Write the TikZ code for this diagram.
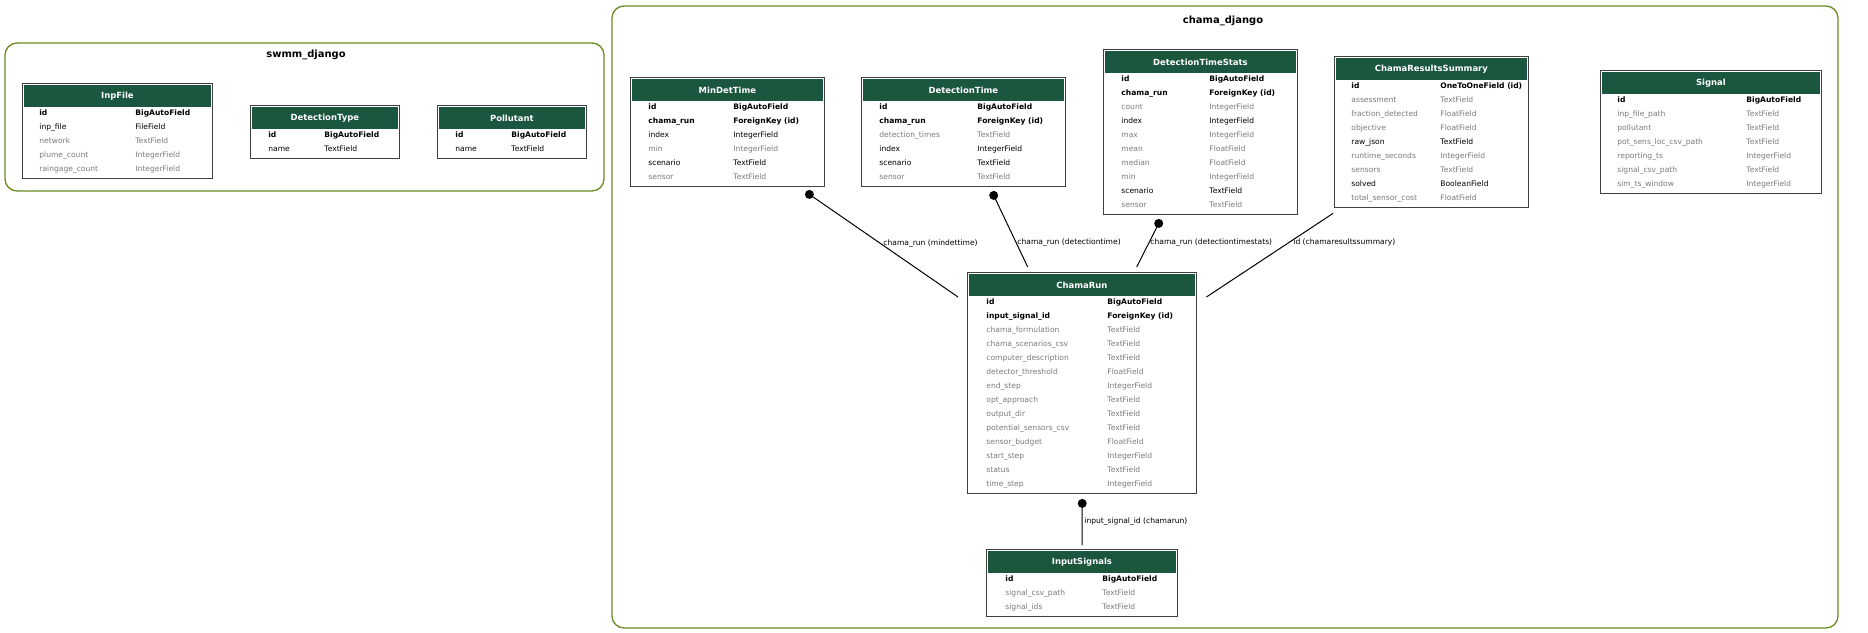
\documentclass[tikz,border=0pt]{standalone}
\usepackage{fontspec}
\setmainfont{DejaVu Sans}
\definecolor{hdrgreen}{HTML}{1B563F}
\definecolor{clustergreen}{HTML}{698B22}
\definecolor{blankgray}{HTML}{7B7B7B}

\begin{document}
\begin{tikzpicture}[x=1bp,y=-1bp,line width=0.8bp,
  cluster/.style={draw=clustergreen,line width=1.3bp,rounded corners=12bp},
  ctitle/.style={font=\fontsize{10}{12}\selectfont\bfseries},
  tbl/.style={draw=black!75,line width=1.4bp,fill=white,anchor=north west,inner sep=0pt},
  hdr/.style={fill=hdrgreen,text=white,anchor=north west,inner sep=0pt,minimum height=22bp,
    font=\fontsize{8.5}{10}\selectfont\bfseries},
  fld/.style={anchor=mid west,inner sep=0pt,font=\fontsize{7.6}{9}\selectfont},
  pk/.style={font=\fontsize{7.6}{9}\selectfont\bfseries,text=black},
  req/.style={text=black},
  opt/.style={text=blankgray},
  rel/.style={line width=1bp},
  dot/.style={circle,fill=black,inner sep=0pt,minimum size=9bp},
  lbl/.style={anchor=mid west,inner sep=0pt,font=\fontsize{7.6}{9}\selectfont}]
\useasboundingbox (0,0) rectangle (1868,633);
% ---- swmm_django ----
\draw[cluster] (5,43) rectangle (604,191);
\node[ctitle] (swmm-title) at (306,55) {swmm\_django};
\node[tbl,minimum width=190bp,minimum height=95bp] (inpfile) at (22,83) {};
\node[hdr,minimum width=187bp] (inpfile-head) at (23.5,84.5) {InpFile};
\foreach \f/\t/\s [count=\i] in {id/BigAutoField/pk, inp\_file/FileField/req,
    network/TextField/opt, plume\_count/IntegerField/opt, raingage\_count/IntegerField/opt}
  {\node[fld,\s] (inpfile-f\i) at (39,99+14*\i) {\f};
   \node[fld,\s] (inpfile-t\i) at (135,99+14*\i) {\t};}
\node[tbl,minimum width=149bp,minimum height=53bp] (detectiontype) at (250,105) {};
\node[hdr,minimum width=146bp] (detectiontype-head) at (251.5,106.5) {DetectionType};
\foreach \f/\t/\s [count=\i] in {id/BigAutoField/pk, name/TextField/req}
  {\node[fld,\s] (detectiontype-f\i) at (268,121+14*\i) {\f};
   \node[fld,\s] (detectiontype-t\i) at (324,121+14*\i) {\t};}
\node[tbl,minimum width=149bp,minimum height=53bp] (pollutant) at (437,105) {};
\node[hdr,minimum width=146bp] (pollutant-head) at (438.5,106.5) {Pollutant};
\foreach \f/\t/\s [count=\i] in {id/BigAutoField/pk, name/TextField/req}
  {\node[fld,\s] (pollutant-f\i) at (455,121+14*\i) {\f};
   \node[fld,\s] (pollutant-t\i) at (511,121+14*\i) {\t};}
% ---- chama_django ----
\draw[cluster] (612,6) rectangle (1838,628);
\node[ctitle] (chama-title) at (1223,21) {chama\_django};
\node[tbl,minimum width=194bp,minimum height=109bp] (mindettime) at (630,77) {};
\node[hdr,minimum width=191bp] (mindettime-head) at (631.5,78.5) {MinDetTime};
\foreach \f/\t/\s [count=\i] in {id/BigAutoField/pk, chama\_run/ForeignKey (id)/pk,
    index/IntegerField/req, min/IntegerField/opt, scenario/TextField/req, sensor/TextField/opt}
  {\node[fld,\s] (mindettime-f\i) at (648,93+14*\i) {\f};
   \node[fld,\s] (mindettime-t\i) at (733,93+14*\i) {\t};}
\node[tbl,minimum width=204bp,minimum height=109bp] (detectiontime) at (861,77) {};
\node[hdr,minimum width=201bp] (detectiontime-head) at (862.5,78.5) {DetectionTime};
\foreach \f/\t/\s [count=\i] in {id/BigAutoField/pk, chama\_run/ForeignKey (id)/pk,
    detection\_times/TextField/opt, index/IntegerField/req, scenario/TextField/req,
    sensor/TextField/opt}
  {\node[fld,\s] (detectiontime-f\i) at (879,93+14*\i) {\f};
   \node[fld,\s] (detectiontime-t\i) at (977,93+14*\i) {\t};}
\node[tbl,minimum width=194bp,minimum height=165bp] (dtstats) at (1103,49) {};
\node[hdr,minimum width=191bp] (dtstats-head) at (1104.5,50.5) {DetectionTimeStats};
\foreach \f/\t/\s [count=\i] in {id/BigAutoField/pk, chama\_run/ForeignKey (id)/pk,
    count/IntegerField/opt, index/IntegerField/req, max/IntegerField/opt, mean/FloatField/opt,
    median/FloatField/opt, min/IntegerField/opt, scenario/TextField/req, sensor/TextField/opt}
  {\node[fld,\s] (dtstats-f\i) at (1121,65+14*\i) {\f};
   \node[fld,\s] (dtstats-t\i) at (1209,65+14*\i) {\t};}
\node[tbl,minimum width=194bp,minimum height=151bp] (summary) at (1334,56) {};
\node[hdr,minimum width=191bp] (summary-head) at (1335.5,57.5) {ChamaResultsSummary};
\foreach \f/\t/\s [count=\i] in {id/OneToOneField (id)/pk, assessment/TextField/opt,
    fraction\_detected/FloatField/opt, objective/FloatField/opt, raw\_json/TextField/req,
    runtime\_seconds/IntegerField/opt, sensors/TextField/opt, solved/BooleanField/req,
    total\_sensor\_cost/FloatField/opt}
  {\node[fld,\s] (summary-f\i) at (1351,72+14*\i) {\f};
   \node[fld,\s] (summary-t\i) at (1440,72+14*\i) {\t};}
\node[tbl,minimum width=221bp,minimum height=123bp] (signal) at (1600,70) {};
\node[hdr,minimum width=218bp] (signal-head) at (1601.5,71.5) {Signal};
\foreach \f/\t/\s [count=\i] in {id/BigAutoField/pk, inp\_file\_path/TextField/opt,
    pollutant/TextField/opt, pot\_sens\_loc\_csv\_path/TextField/opt,
    reporting\_ts/IntegerField/opt, signal\_csv\_path/TextField/opt,
    sim\_ts\_window/IntegerField/opt}
  {\node[fld,\s] (signal-f\i) at (1617,86+14*\i) {\f};
   \node[fld,\s] (signal-t\i) at (1746,86+14*\i) {\t};}
\node[tbl,minimum width=229bp,minimum height=221bp] (chamarun) at (967,272) {};
\node[hdr,minimum width=226bp] (chamarun-head) at (968.5,273.5) {ChamaRun};
\foreach \f/\t/\s [count=\i] in {id/BigAutoField/pk, input\_signal\_id/ForeignKey (id)/pk,
    chama\_formulation/TextField/opt, chama\_scenarios\_csv/TextField/opt,
    computer\_description/TextField/opt, detector\_threshold/FloatField/opt,
    end\_step/IntegerField/opt, opt\_approach/TextField/opt, output\_dir/TextField/opt,
    potential\_sensors\_csv/TextField/opt, sensor\_budget/FloatField/opt,
    start\_step/IntegerField/opt, status/TextField/opt, time\_step/IntegerField/opt}
  {\node[fld,\s] (chamarun-f\i) at (986,288+14*\i) {\f};
   \node[fld,\s] (chamarun-t\i) at (1107,288+14*\i) {\t};}
\node[tbl,minimum width=191bp,minimum height=67bp] (inputsignals) at (986,549) {};
\node[hdr,minimum width=188bp] (inputsignals-head) at (987.5,550.5) {InputSignals};
\foreach \f/\t/\s [count=\i] in {id/BigAutoField/pk, signal\_csv\_path/TextField/opt,
    signal\_ids/TextField/opt}
  {\node[fld,\s] (inputsignals-f\i) at (1005,565+14*\i) {\f};
   \node[fld,\s] (inputsignals-t\i) at (1102,565+14*\i) {\t};}
% ---- relations ----
\node[dot] (mindettime-dot) at ([shift={(-16,7)}]mindettime.south east) {};
\node[dot] (detectiontime-dot) at ([shift={(30,8)}]detectiontime.south) {};
\node[dot] (dtstats-dot) at ([shift={(-42,8)}]dtstats.south) {};
\node[dot] (chamarun-dot) at ([shift={(0,9)}]chamarun.south) {};
\coordinate (summary-end) at ([shift={(-1,5)}]summary.south west);
\coordinate (chamarun-in1) at ([shift={(-9,25)}]chamarun.north west);
\coordinate (chamarun-in2) at ([shift={(-54.5,-5)}]chamarun.north);
\coordinate (chamarun-in3) at ([shift={(54.5,-5)}]chamarun.north);
\coordinate (chamarun-in4) at ([shift={(9,25)}]chamarun.north east);
\coordinate (inputsignals-in) at ([shift={(0,-4)}]inputsignals.north);
\draw[rel] (mindettime-dot.center) -- (chamarun-in1);
\draw[rel] (detectiontime-dot.center) -- (chamarun-in2);
\draw[rel] (dtstats-dot.center) -- (chamarun-in3);
\draw[rel] (summary-end) -- (chamarun-in4);
\draw[rel] (chamarun-dot.center) -- (inputsignals-in);
\node[lbl] (mindettime-lbl) at (883,243) {chama\_run (mindettime)};
\node[lbl] (detectiontime-lbl) at (1017,242) {chama\_run (detectiontime)};
\node[lbl] (dtstats-lbl) at (1150,242) {chama\_run (detectiontimestats)};
\node[lbl] (summary-lbl) at (1293,242) {id (chamaresultssummary)};
\node[lbl] (inputsignals-lbl) at (1084,521) {input\_signal\_id (chamarun)};
\end{tikzpicture}
\end{document}
